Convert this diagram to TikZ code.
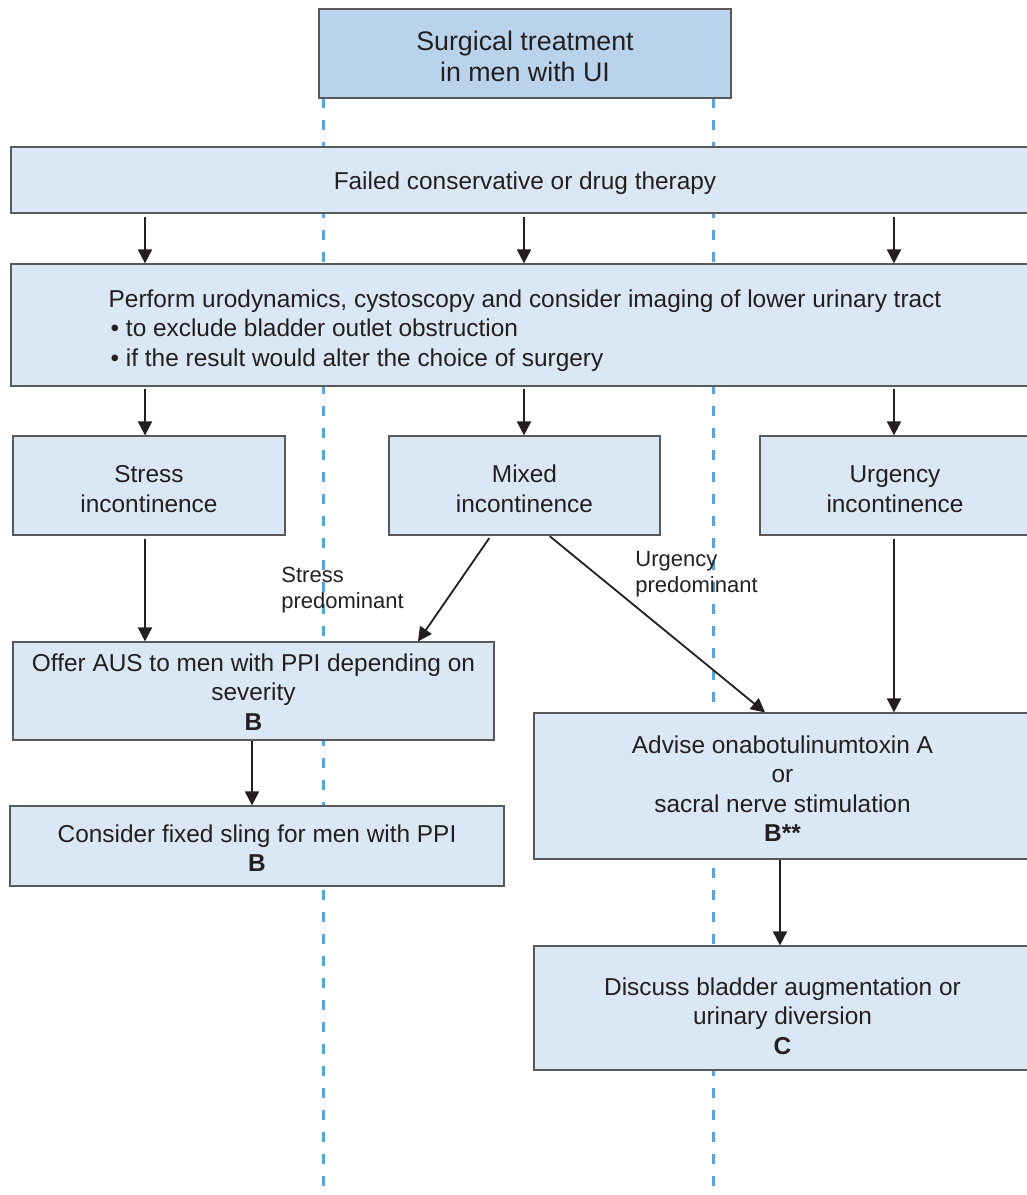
\documentclass[tikz,border=0pt]{standalone}
\usepackage{fontspec}
\setmainfont{Liberation Sans}
\usetikzlibrary{arrows.meta}
\definecolor{boxfill}{RGB}{218,231,244}
\definecolor{titlefill}{RGB}{185,211,236}
\definecolor{boxline}{RGB}{88,89,91}
\definecolor{dashc}{RGB}{88,165,220}
\definecolor{txt}{RGB}{35,31,32}
\newcommand{\ctab}[2][16.3pt]{\begin{tabular}{@{}c@{}}\rule{0pt}{#1}#2\end{tabular}}
\newcommand{\ltab}[1]{\begin{tabular}{@{}l@{}}\rule{0pt}{16.3pt}#1\end{tabular}}
\newcommand{\ttab}[1]{\begin{tabular}{@{}c@{}}\rule{0pt}{16.8pt}#1\end{tabular}}
\begin{document}
\begin{tikzpicture}[x=0.5pt,y=-0.5pt,
 box/.style={draw=boxline, line width=0.6pt, fill=boxfill, inner sep=0pt, text=txt, font=\fontsize{12.2}{14.7}\selectfont},
 onebox/.style={box, execute at begin node={\rule{0pt}{11.9pt}}},
 titlebox/.style={box, fill=titlefill, font=\fontsize{13.4}{15.5}\selectfont},
 arr/.style={draw=txt, line width=0.9pt, -{Triangle[length=7pt,width=7pt]}},
 guide/.style={draw=dashc, line width=1.5pt, dash pattern=on 5pt off 6pt},
 lab/.style={text=txt, align=left, inner sep=0pt, anchor=west, font=\fontsize{11}{13}\selectfont}]
\useasboundingbox (0,0) rectangle (1027,1195);
\clip (0,0) rectangle (1027,1195);
% guide lines
\coordinate (g1t) at (323,98); \coordinate (g1b) at (323,1200);
\coordinate (g2t) at (713,98); \coordinate (g2b) at (713,1200);
\draw[guide] (g1t) -- (g1b);
\draw[guide] (g2t) -- (g2b);
% boxes
\node[titlebox, minimum width=206pt, minimum height=44.5pt] (t) at (525,53.5) {\ttab{Surgical treatment\\in men with UI}};
\node[onebox, minimum width=514pt, minimum height=33pt] (f) at (525,180) {Failed conservative or drug therapy};
\node[box, minimum width=514pt, minimum height=61pt] (p) at (525,325) {\ltab{Perform urodynamics, cystoscopy and consider imaging of lower urinary tract\\\hspace{1pt}\textbullet\ to exclude bladder outlet obstruction\\\hspace{1pt}\textbullet\ if the result would alter the choice of surgery}};
\node[box, minimum width=136pt, minimum height=49.5pt] (s) at (149,485.5) {\ctab{Stress\\incontinence}};
\node[box, minimum width=135.5pt, minimum height=49.5pt] (m) at (524.5,485.5) {\ctab{Mixed\\incontinence}};
\node[box, minimum width=135pt, minimum height=49.5pt] (u) at (895,485.5) {\ctab{Urgency\\incontinence}};
\node[box, minimum width=240.5pt, minimum height=49pt] (a) at (253.5,691) {\ctab[14.3pt]{Offer AUS to men with PPI depending on\\severity\\\textbf{B}}};
\node[box, minimum width=247pt, minimum height=40pt] (fs) at (257,846) {\ctab[15.3pt]{Consider fixed sling for men with PPI\\\textbf{B}}};
\node[box, minimum width=248.5pt, minimum height=73pt] (ad) at (782.5,786) {\ctab[15.8pt]{Advise onabotulinumtoxin A\\or\\sacral nerve stimulation\\\textbf{B**}}};
\node[box, minimum width=248.5pt, minimum height=62pt] (d) at (782.5,1008) {\ctab[21.3pt]{Discuss bladder augmentation or\\urinary diversion\\\textbf{C}}};
% x positions of connectors
\coordinate (x145) at (145,0);
\coordinate (x524) at (524,0);
\coordinate (x894) at (894,0);
\coordinate (x491) at (491,0);
\coordinate (x418) at (418,0);
\coordinate (x549) at (549,0);
\coordinate (x765) at (765,0);
\coordinate (x252) at (252,0);
\coordinate (x780) at (780,0);
% connectors
\draw[arr, shorten <=1.5pt] (f.south -| x145) -- (p.north -| x145);
\draw[arr, shorten <=1.5pt] (f.south -| x524) -- (p.north -| x524);
\draw[arr, shorten <=1.5pt] (f.south -| x894) -- (p.north -| x894);
\draw[arr, shorten <=1pt] (p.south -| x145) -- (s.north -| x145);
\draw[arr, shorten <=1pt] (p.south -| x524) -- (m.north -| x524);
\draw[arr, shorten <=1pt] (p.south -| x894) -- (u.north -| x894);
\draw[arr, shorten <=1.5pt] (s.south -| x145) -- (a.north -| x145);
\draw[arr, shorten <=1.5pt] (m.south -| x491) -- (a.north -| x418);
\draw[arr, shorten <=0.5pt] (m.south -| x549) -- (ad.north -| x765);
\draw[arr, shorten <=1.5pt] (u.south -| x894) -- (ad.north -| x894);
\draw[arr] (a.south -| x252) -- (fs.north -| x252);
\draw[arr] (ad.south -| x780) -- (d.north -| x780);
% labels
\node[lab] (sp) at (281,590) {Stress\\predominant};
\node[lab] (up) at (635,574) {Urgency\\predominant};
\end{tikzpicture}
\end{document}
